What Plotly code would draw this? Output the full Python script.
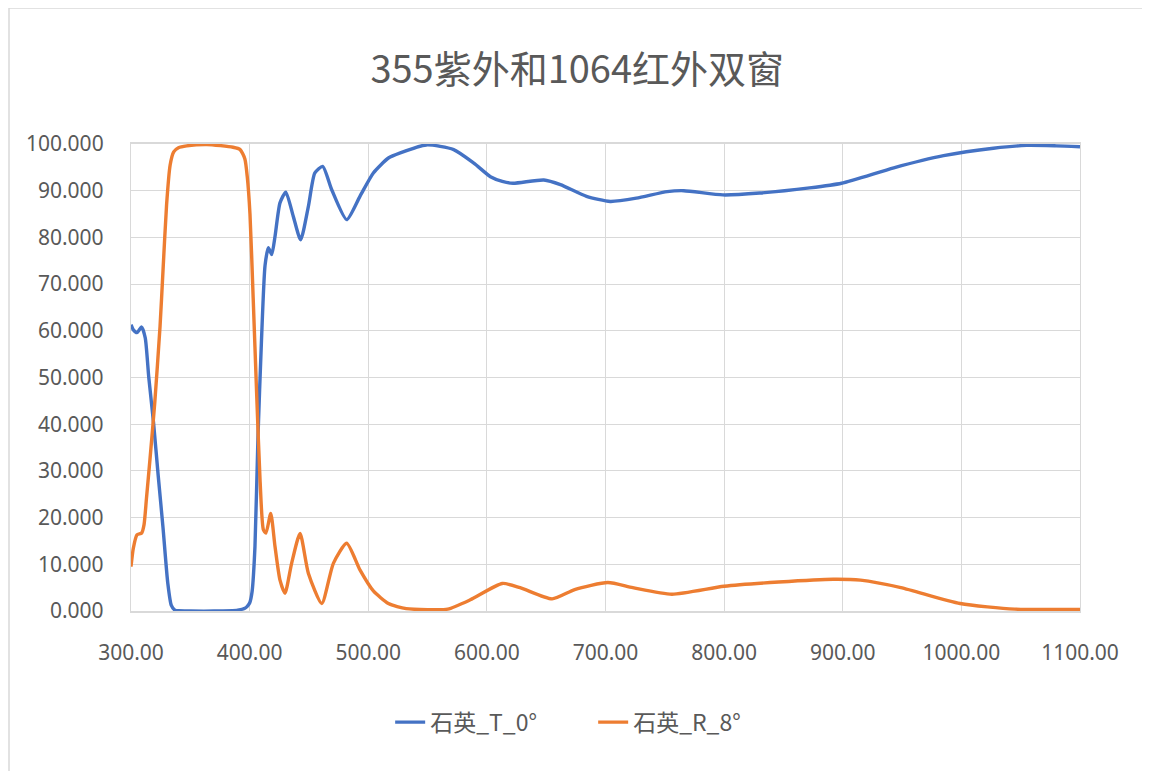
import plotly.graph_objects as go

title_text = "355紫外和1064红外双窗"
name_T = "石英_T_0°"
name_R = "石英_R_8°"

wl_T = [300, 302, 305, 309, 312, 315, 319, 323, 327, 331, 334, 337, 340, 350, 370, 390,
        396, 398, 400, 402, 404.5, 407, 410, 413, 415.8, 418.6, 421.4, 425.6, 430.5, 436.8,
        443, 449.5, 455, 461.6, 469.2, 481.8, 493, 504.3, 517, 527, 549, 572, 589, 603,
        613, 622, 648, 662, 684, 704, 726, 752, 766, 799, 830, 872, 899, 943, 985, 1027,
        1055, 1080, 1100]
T_0 = [61.3, 60.2, 59.6, 60.8, 58.5, 50.0, 40.3, 28.8, 17.8, 6.0, 1.2, 0.2, 0.05, 0.0, 0.0, 0.2,
       0.6, 1.0, 1.7, 4.0, 13.8, 37.0, 58.0, 74.0, 77.8, 76.3, 80.2, 87.4, 89.7, 84.5,
       79.5, 86.6, 93.8, 95.2, 90.2, 83.8, 88.8, 93.8, 97.0, 98.1, 99.8, 98.8, 95.9, 93.0,
       92.0, 91.6, 92.3, 91.3, 88.8, 87.7, 88.4, 89.8, 90.0, 89.1, 89.5, 90.6, 91.6, 94.9, 97.5, 99.1,
       99.7, 99.6, 99.4]

wl_R = [300, 302, 305, 309, 311, 313, 316, 320, 324.5, 327, 330, 333, 336, 340, 347, 364,
        386, 392, 396, 398, 400.3, 403, 406, 408.8, 411.6, 413.8, 417.8, 421.4, 425.6, 429.8,
        435.4, 442.5, 449.5, 460.8, 470.6, 481.8, 493, 504.3, 517, 532, 550, 567, 586, 613,
        628, 655, 674, 702, 723, 756, 800, 846, 892, 915, 949, 999, 1045, 1100]
R_8 = [9.5, 13.5, 16.3, 16.7, 18.5, 24.0, 32.5, 44.5, 61.0, 73.0, 87.0, 95.5, 98.3, 99.2, 99.6, 99.9,
       99.3, 98.8, 96.8, 93.0, 85.0, 67.0, 46.0, 28.0, 17.4, 16.7, 20.9, 13.8, 6.6, 3.8,
       10.2, 16.6, 8.1, 1.6, 10.2, 14.5, 8.8, 4.3, 1.6, 0.5, 0.3, 0.4, 2.4, 5.9,
       5.0, 2.6, 4.6, 6.1, 5.0, 3.6, 5.3, 6.2, 6.8, 6.6, 5.0, 1.6, 0.4, 0.35]

fig = go.Figure()
fig.add_trace(go.Scatter(x=wl_T, y=T_0, name=name_T, mode="lines",
                         line=dict(color="#4472C4", width=3.4, shape="spline", smoothing=0.6)))
fig.add_trace(go.Scatter(x=wl_R, y=R_8, name=name_R, mode="lines",
                         line=dict(color="#ED7D31", width=3.4, shape="spline", smoothing=0.6)))

grid = "#d9d9d9"
tickfont = dict(family="Noto Sans, sans-serif", size=21, color="#595959")

fig.update_layout(
    width=1150, height=771,
    margin=dict(l=123, r=78, t=136, b=168),
    paper_bgcolor="white", plot_bgcolor="white",
    title=dict(text=title_text, x=0.495, xanchor="center", y=0.92, yanchor="middle",
               font=dict(family="Noto Sans CJK SC, sans-serif", size=38, color="#595959")),
    showlegend=True,
    legend=dict(orientation="h", x=0.487, xanchor="center", y=-0.238, yanchor="middle",
                font=dict(family="Noto Sans CJK SC, sans-serif", size=23, color="#595959"),
                entrywidth=158, entrywidthmode="pixels", tracegroupgap=0),
    xaxis=dict(range=[300, 1100], dtick=100, tick0=300, tickformat=".2f",
               showgrid=True, gridcolor=grid, gridwidth=1.3,
               showline=True, linecolor=grid, linewidth=1.5, mirror=True,
               zeroline=False, ticks="", tickfont=tickfont, ticklabelstandoff=22),
    yaxis=dict(range=[0, 100], dtick=10, tickformat=".3f",
               showgrid=True, gridcolor=grid, gridwidth=1.3,
               showline=True, linecolor=grid, linewidth=1.3, mirror=True,
               zeroline=False, ticks="", tickfont=tickfont, ticklabelstandoff=22),
    shapes=[dict(type="rect", xref="paper", yref="paper",
                 x0=(1 - 123) / 949, x1=(1160 - 123) / 949,
                 y0=(603 - 790) / 467, y1=(603 + 0) / 467,
                 line=dict(color="#d9d9d9", width=1.5), fillcolor="rgba(0,0,0,0)", layer="below")],
)

fig.write_html("out.html")
